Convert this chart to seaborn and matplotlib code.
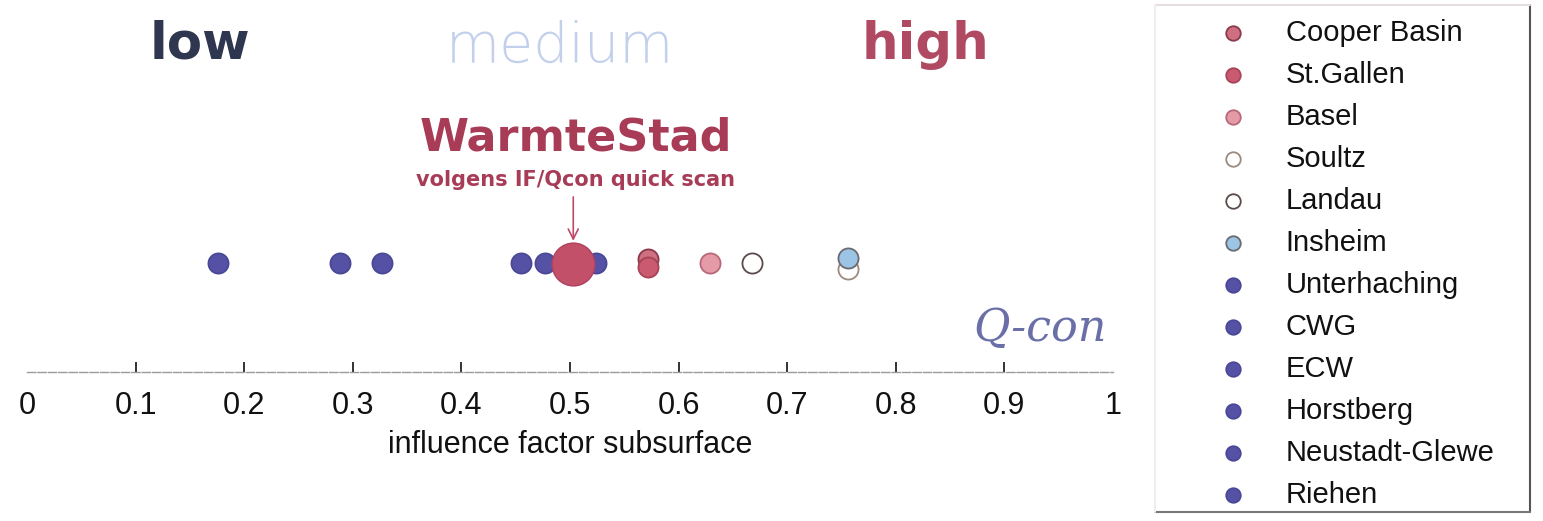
import matplotlib
matplotlib.use("Agg")
import matplotlib.pyplot as plt
import seaborn as sns
from matplotlib.lines import Line2D

# sites in legend order, with influence factor and a small vertical nudge (overlaps)
sites = ["Cooper Basin", "St.Gallen", "Basel", "Soultz", "Landau", "Insheim",
         "Unterhaching", "CWG", "ECW", "Horstberg", "Neustadt-Glewe", "Riehen"]
factor = [0.572, 0.572, 0.629, 0.756, 0.668, 0.756,
          0.176, 0.288, 0.327, 0.455, 0.477, 0.524]
nudge = [0.012, -0.010, 0.0, -0.016, 0.0, 0.014,
         0.0, 0.0, 0.0, 0.0, 0.0, 0.0]
faces = ["#cf6f82", "#c95a70", "#e59aa8", "#ffffff", "#ffffff", "#9cc4e4",
         "#5552a6", "#5552a6", "#5552a6", "#5552a6", "#5552a6", "#5552a6"]
edges = ["#8a3a4c", "#a84458", "#b86878", "#9a8a80", "#5a4a48", "#6a6a70",
         "#4a4896", "#4a4896", "#4a4896", "#4a4896", "#4a4896", "#4a4896"]

warmte_factor = 0.503
base_y = 0.293

sns.set_style("white")
plt.rcParams["font.family"] = ["Liberation Sans", "DejaVu Sans"]
plt.rcParams["text.color"] = "#111111"
plt.rcParams["axes.labelcolor"] = "#111111"
plt.rcParams["xtick.color"] = "#111111"

fig = plt.figure(figsize=(15.43, 5.21), dpi=100)
ax = fig.add_axes([27 / 1543, 149 / 521, 1086 / 1543, 372 / 521])

for s, f, n, fc, ec in zip(sites, factor, nudge, faces, edges):
    sns.scatterplot(x=[f], y=[base_y + n], color=fc, edgecolor=ec, linewidth=1.3,
                    s=210, label=s, ax=ax, zorder=3)

# WarmteStad estimate
sns.scatterplot(x=[warmte_factor], y=[base_y - 0.004], color="#c25068", edgecolor="#b04060",
                linewidth=1, s=950, label="_nolegend_", ax=ax, zorder=4)
ax.annotate("", xy=(warmte_factor, 0.345), xytext=(warmte_factor, 0.478),
            arrowprops=dict(arrowstyle="->", color="#c04a68", lw=1.2, mutation_scale=18))

ax.text(0.159, 0.88, "low", ha="center", va="center", fontsize=37, fontweight="bold",
        color="#2e3650", family="DejaVu Sans")
ax.text(0.491, 0.875, "medium", ha="center", va="center", fontsize=40, fontweight="light",
        color="#c3d0ec", family="DejaVu Sans")
ax.text(0.827, 0.88, "high", ha="center", va="center", fontsize=37, fontweight="bold",
        color="#b04a62", family="DejaVu Sans")
ax.text(0.505, 0.63, "WarmteStad", ha="center", va="center", fontsize=32, fontweight="bold",
        color="#a83c56", family="DejaVu Sans")
ax.text(0.505, 0.516, "volgens IF/Qcon quick scan", ha="center", va="center", fontsize=15,
        fontweight="bold", color="#a83c56", family="DejaVu Sans")
ax.text(0.933, 0.118, "Q-con", ha="center", va="center", fontsize=32, style="italic",
        color="#6a6fa8", family="DejaVu Serif")

ax.set_xlim(0, 1)
ax.set_ylim(0, 1)
ax.set_xticks([0, 0.1, 0.2, 0.3, 0.4, 0.5, 0.6, 0.7, 0.8, 0.9, 1])
ax.set_xticklabels(["0", "0.1", "0.2", "0.3", "0.4", "0.5", "0.6", "0.7", "0.8", "0.9", "1"])
ax.set_yticks([])
ax.tick_params(axis="x", bottom=True, direction="in", length=7, width=1.2,
               labelsize=22, pad=14)
ticklines = ax.xaxis.get_ticklines()
for t in ticklines:
    t.set_color("#666666")
# no tick marks at the ends, only 0.1 .. 0.9
ax.xaxis.get_major_ticks()[0].tick1line.set_visible(False)
ax.xaxis.get_major_ticks()[-1].tick1line.set_visible(False)
ax.set_xlabel("influence factor subsurface", fontsize=22, labelpad=6)
for side in ["left", "right", "top"]:
    ax.spines[side].set_visible(False)
ax.spines["bottom"].set_color("#9a9aa0")
ax.spines["bottom"].set_linestyle((0, (6, 1.5)))
ax.spines["bottom"].set_linewidth(1)

handles, labels = ax.get_legend_handles_labels()
if ax.legend_:
    ax.legend_.remove()
fig.legend(handles, labels, loc="upper left", bbox_to_anchor=(1204 / 1543, 1 - 19 / 521),
           frameon=False, fontsize=21, markerscale=0.72, labelspacing=0.48,
           handlelength=2, handletextpad=0.8, borderpad=0, borderaxespad=0)

# legend box: dark right/bottom, faint top/left
fig.add_artist(Line2D([1530 / 1543, 1530 / 1543], [1 - 5 / 521, 1 - 512 / 521],
                      transform=fig.transFigure, color="#555555", lw=1.5))
fig.add_artist(Line2D([1155 / 1543, 1530 / 1543], [1 - 512 / 521, 1 - 512 / 521],
                      transform=fig.transFigure, color="#777777", lw=1.5))
fig.add_artist(Line2D([1155 / 1543, 1530 / 1543], [1 - 5 / 521, 1 - 5 / 521],
                      transform=fig.transFigure, color="#e6dde2", lw=1.5))
fig.add_artist(Line2D([1155 / 1543, 1155 / 1543], [1 - 5 / 521, 1 - 512 / 521],
                      transform=fig.transFigure, color="#eeeeee", lw=1.5))

fig.savefig("out.png", dpi=100)
